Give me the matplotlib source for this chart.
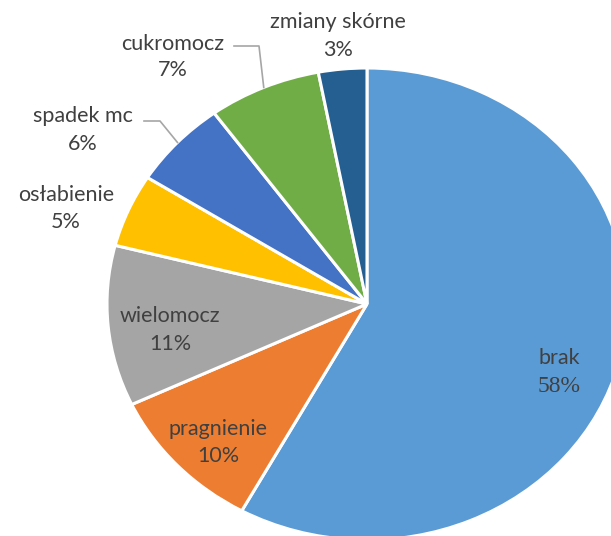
import numpy as np
import matplotlib.pyplot as plt

# data
labels = ['brak', 'pragnienie', 'wielomocz', 'osłabienie', 'spadek mc', 'cukromocz', 'zmiany skórne']
values = [58, 10, 11, 5, 6, 7, 3]
colors = ['#5b9bd5', '#ed7d31', '#a5a5a5', '#ffc000', '#4472c4', '#70ad47', '#255e91']

# layout (pixels of the 611x536 picture)
W, H = 611, 536
CX, CY, RX, RY = 367, 304, 260, 236
# label: (x centre, y of name, y of percentage)
label_pos = {
    'brak': (559, 358, 386),
    'pragnienie': (218, 429, 456),
    'wielomocz': (170, 316, 344),
    'osłabienie': (66, 195, 222),
    'spadek mc': (83, 116, 144),
    'cukromocz': (173, 44, 70),
    'zmiany skórne': (338, 22, 50),
}
# leader lines: start and knee
leaders = {
    'spadek mc': ((144, 121), (160, 121)),
    'cukromocz': ((234, 46), (259, 46)),
}


def to_data(px, py):
    return (px - CX) / RX, (CY - py) / RY


plt.rcParams['font.serif'] = ['Liberation Serif', 'DejaVu Serif']

fig = plt.figure(figsize=(W / 100, H / 100), dpi=100)
ax = fig.add_axes([0, 0, 1, 1])
wedges, _ = ax.pie(values, colors=colors, startangle=90, counterclock=False,
                   wedgeprops=dict(edgecolor='white', linewidth=2.2))
ax.set_aspect('auto')
x0, y0 = to_data(0, H)
x1, y1 = to_data(W, 0)
ax.set_xlim(x0, x1)
ax.set_ylim(y0, y1)
ax.axis('off')

txt_col = '#404040'
fs = 15.5
for lab, val in zip(labels, values):
    px, ny, vy = label_pos[lab]
    ax.text(*to_data(px, ny), lab, ha='center', va='center', fontsize=fs,
            family='Lato', color=txt_col)
    if lab == 'brak':
        ax.text(*to_data(px, vy), f'{val}%', ha='center', va='center', fontsize=17,
                family='serif', color=txt_col)
    else:
        ax.text(*to_data(px, vy), f'{val}%', ha='center', va='center', fontsize=fs,
                family='Lato', color=txt_col)

for w, lab in zip(wedges, labels):
    if lab not in leaders:
        continue
    (sx, sy), (kx, ky) = leaders[lab]
    ang = np.deg2rad((w.theta1 + w.theta2) / 2)
    ex, ey = np.cos(ang) * 1.0, np.sin(ang) * 1.0
    xs = [to_data(sx, sy)[0], to_data(kx, ky)[0], ex]
    ys = [to_data(sx, sy)[1], to_data(kx, ky)[1], ey]
    ax.plot(xs, ys, color='#a6a6a6', lw=1.2)

fig.savefig('out.png', dpi=100)
